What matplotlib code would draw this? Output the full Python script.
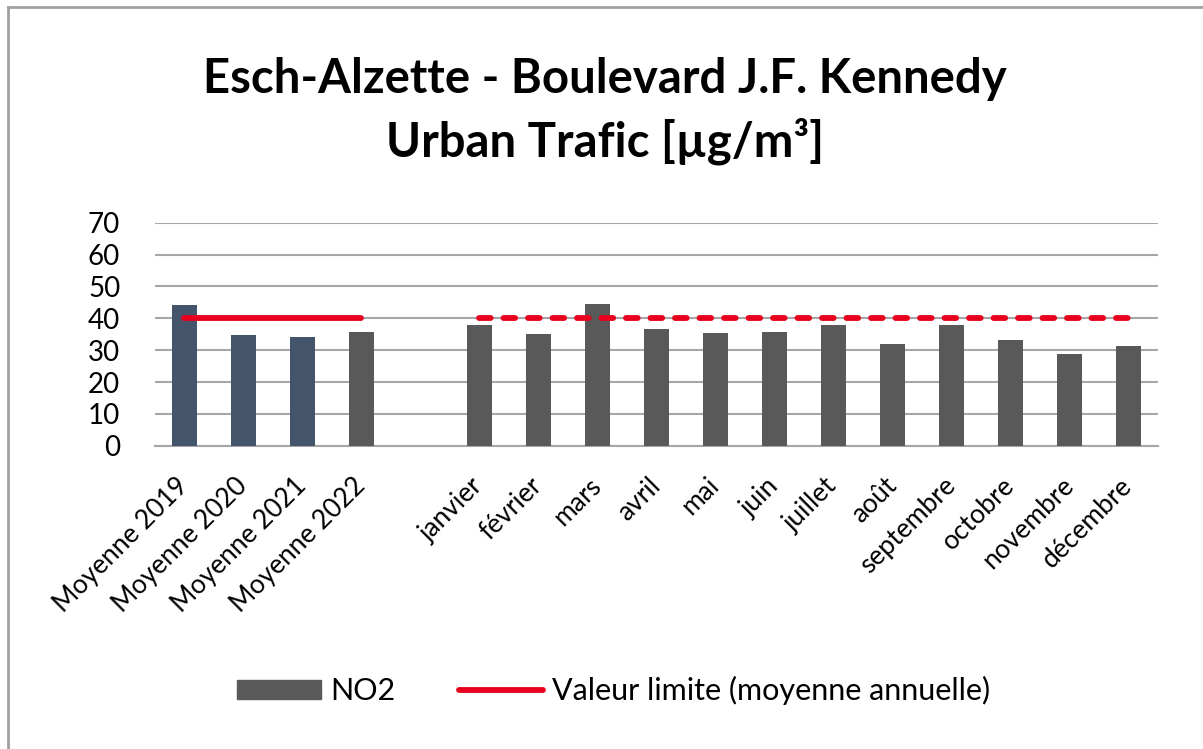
import numpy as np
import matplotlib.pyplot as plt
from matplotlib.lines import Line2D
from matplotlib.patches import Patch

plt.rcParams['font.family'] = ['Lato', 'DejaVu Sans']

# annual means then monthly values for 2022 (NO2, µg/m³)
annual_labels = ["Moyenne 2019", "Moyenne 2020", "Moyenne 2021", "Moyenne 2022"]
annual_no2 = [44.1, 34.6, 34.2, 35.6]
month_labels = ["janvier", "février", "mars", "avril", "mai", "juin", "juillet",
                "août", "septembre", "octobre", "novembre", "décembre"]
month_no2 = [37.9, 35.0, 44.4, 36.7, 35.5, 35.8, 37.9, 31.8, 37.9, 33.1, 28.7, 31.3]
limit = 40

blue = "#44546A"
grey = "#595959"
red = "#E8001C"

fig = plt.figure(figsize=(12.03, 7.49), dpi=100)
ax = fig.add_axes([0.1288, 0.4049, 0.8338, 0.2978])

x_ann = np.arange(len(annual_labels))
x_mon = np.arange(len(month_labels)) + len(annual_labels) + 1
colors = [blue, blue, blue, grey]

ax.bar(x_ann, annual_no2, width=0.41, color=colors, zorder=3)
ax.bar(x_mon, month_no2, width=0.41, color=grey, zorder=3)

ax.plot([x_ann[0], x_ann[-1]], [limit, limit], color=red, lw=4.2,
        solid_capstyle='round', zorder=4)
ax.plot([x_mon[0], x_mon[-1]], [limit, limit], color=red, lw=4.2,
        ls=(0, (2.0, 2.2)), dash_capstyle='round', zorder=4)

ax.set_xlim(-0.5, x_mon[-1] + 0.5)
ax.set_ylim(0, 70)
ax.set_yticks(range(0, 71, 10))
ax.yaxis.grid(True, color="#A6A6A6", lw=1.5, zorder=0)
ax.set_axisbelow(True)
for s in ["top", "right", "left"]:
    ax.spines[s].set_visible(False)
ax.spines["bottom"].set_color("#A6A6A6")
ax.spines["bottom"].set_linewidth(1.5)
ax.tick_params(axis='both', length=0)
ax.tick_params(axis='y', labelsize=20, pad=25)

ax.set_xticks(np.concatenate([x_ann, x_mon]))
ax.set_xticklabels(annual_labels + month_labels, rotation=45, ha='right',
                   va='center', rotation_mode='anchor', fontsize=19)
ax.tick_params(axis='x', pad=26)

fig.text(0.503, 0.895, "Esch-Alzette - Boulevard J.F. Kennedy", ha='center',
         va='center', fontsize=34, fontweight='bold')
fig.text(0.503, 0.812, "Urban Trafic [µg/m³]", ha='center',
         va='center', fontsize=34, fontweight='bold')

handles = [Patch(color=grey, label="NO2"),
           Line2D([0], [0], color=red, lw=4.2, solid_capstyle='round',
                  label="Valeur limite (moyenne annuelle)")]
fig.legend(handles=handles, loc='center', bbox_to_anchor=(0.51, 0.078), ncol=2,
           frameon=False, fontsize=22, handlelength=2.75, handleheight=0.6,
           columnspacing=2.1, handletextpad=0.3)

# chart border
fig.add_artist(Line2D([0.0065, 0.0065], [0, 0.991], color="#A0A0A0", lw=2))
fig.add_artist(Line2D([0.0065, 1], [0.991, 0.991], color="#A0A0A0", lw=2))

fig.savefig("out.png", dpi=100)
